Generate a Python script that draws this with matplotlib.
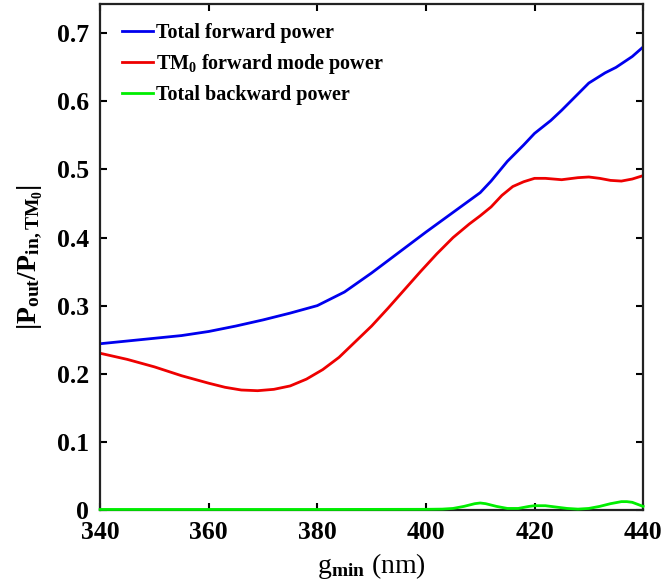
import matplotlib
matplotlib.use('Agg')
import matplotlib.pyplot as plt

# gap sweep (nm) and normalised powers
g_fwd = [340, 345, 350, 355, 360, 365, 370, 375, 380, 385, 390, 395, 400,
         405, 410, 412, 415, 418, 420, 423, 425, 427, 430, 433, 435, 438, 440]
p_total_fwd = [0.244, 0.248, 0.252, 0.256, 0.262, 0.270, 0.279, 0.289, 0.300,
               0.320, 0.348, 0.378, 0.408, 0.437, 0.466, 0.483, 0.512, 0.536,
               0.553, 0.572, 0.587, 0.603, 0.627, 0.642, 0.650, 0.666, 0.680]

g_tm0 = [340, 345, 350, 355, 360, 363, 366, 369, 372, 375, 378, 381, 384, 387,
         390, 393, 396, 399, 402, 405, 408, 410, 412, 414, 416, 418, 420, 422,
         425, 428, 430, 432, 434, 436, 438, 440]
p_tm0_fwd = [0.230, 0.221, 0.210, 0.197, 0.186, 0.180, 0.176, 0.175, 0.177,
             0.182, 0.192, 0.206, 0.224, 0.247, 0.270, 0.296, 0.323, 0.350,
             0.376, 0.400, 0.420, 0.432, 0.445, 0.462, 0.475, 0.482, 0.487,
             0.487, 0.485, 0.488, 0.489, 0.487, 0.484, 0.483, 0.486, 0.491]

g_bwd = [340, 360, 380, 400, 403, 405, 407, 409, 410, 411, 413, 415, 417, 419,
         420, 422, 424, 426, 428, 430, 432, 434, 436, 437, 438, 439, 440]
p_total_bwd = [0.0005, 0.0005, 0.0005, 0.0007, 0.001, 0.002, 0.005, 0.009,
               0.010, 0.009, 0.005, 0.002, 0.002, 0.005, 0.006, 0.006, 0.004,
               0.002, 0.001, 0.002, 0.005, 0.009, 0.012, 0.012, 0.011, 0.008,
               0.005]

x_ticks = [340, 360, 380, 400, 420, 440]
y_ticks = [0, 0.1, 0.2, 0.3, 0.4, 0.5, 0.6, 0.7]
y_tick_labels = ['0', '0.1', '0.2', '0.3', '0.4', '0.5', '0.6', '0.7']

plt.rcParams['font.family'] = 'Liberation Serif'
plt.rcParams['font.weight'] = 'bold'
plt.rcParams['mathtext.fontset'] = 'custom'
plt.rcParams['mathtext.rm'] = 'Liberation Serif:bold'
plt.rcParams['mathtext.it'] = 'Liberation Serif:bold'
plt.rcParams['mathtext.bf'] = 'Liberation Serif:bold'

fig = plt.figure(figsize=(6.63, 5.88), dpi=100)
ax = fig.add_axes([0.151, 0.133, 0.819, 0.860])

ax.plot(g_fwd, p_total_fwd, color='#0000ee', lw=2.0, label='Total forward power')
ax.plot(g_tm0, p_tm0_fwd, color='#ee0000', lw=2.0,
        label=r'TM$_{0}$ forward mode power')
ax.plot(g_bwd, p_total_bwd, color='#00ee00', lw=2.0, clip_on=False, zorder=5,
        label='Total backward power')

ax.set_xlim(340, 440)
ax.set_ylim(0, 0.743)
ax.set_xticks(x_ticks)
ax.set_yticks(y_ticks)
ax.set_yticklabels(y_tick_labels)
ax.tick_params(direction='in', top=True, right=True, length=5, width=1.5,
               labelsize=18.5)
ax.tick_params(axis='x', pad=8)
ax.tick_params(axis='y', pad=8)
for s in ax.spines.values():
    s.set_linewidth(1.6)
    s.set_color('#222222')

ax.set_xlabel(r'g$_{\mathrm{min}}$ (nm)', fontsize=20, labelpad=5)
ax.set_ylabel(r'$|\mathrm{P}_{\mathrm{out}}/\mathrm{P}_{\mathrm{in,TM}_{0}}|$',
              fontsize=20, labelpad=9)

ax.legend(loc='upper left', frameon=False, fontsize=14.5, handlelength=1.5,
          handletextpad=0.15, labelspacing=0.45, borderaxespad=0.3,
          bbox_to_anchor=(0.015, 0.99))

fig.savefig('out.png', dpi=100)
